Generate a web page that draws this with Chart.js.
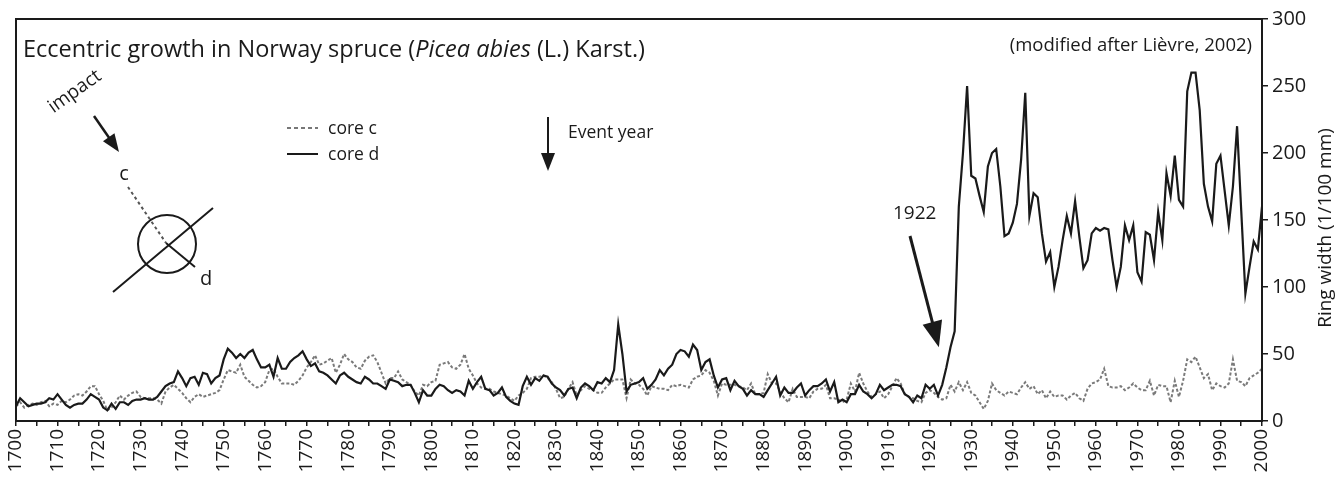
<!DOCTYPE html>
<html>
<head>
<meta charset="utf-8">
<script src="https://cdn.jsdelivr.net/npm/chart.js@4.4.1/dist/chart.umd.min.js"></script>
<style>
  html, body { margin: 0; padding: 0; background: #fff; }
  #wrap { width: 1341px; height: 477px; position: relative; }
</style>
</head>
<body>
<div id="wrap"><canvas id="chart" width="1341" height="477"></canvas></div>
<script>
// years on the x axis
const years = Array.from({ length: 301 }, (_, i) => 1700 + i);
const xTickStep = 5;
const yTicks = [0, 50, 100, 150, 200, 250, 300];

// ring width, 1/100 mm
const coreD = [
    11, 17, 14, 11, 12, 13, 13, 14, 17, 16, 20, 16, 12, 10, 12, 13, 13, 16, 20, 18,
    16, 10, 8, 13, 9, 14, 14, 12, 15, 16, 16, 17, 16, 16, 18, 22, 26, 28, 29, 37,
    32, 26, 32, 33, 27, 36, 35, 28, 32, 34, 46, 54, 51, 47, 50, 47, 51, 53, 46, 40,
    40, 42, 33, 47, 39, 39, 44, 47, 49, 52, 46, 41, 43, 37, 36, 34, 31, 28, 34, 36,
    33, 31, 29, 28, 33, 31, 28, 28, 26, 24, 31, 30, 29, 26, 27, 27, 21, 14, 23, 19,
    19, 24, 27, 26, 23, 21, 23, 22, 19, 30, 24, 29, 33, 24, 23, 19, 21, 25, 18, 15,
    13, 12, 26, 33, 27, 32, 30, 34, 33, 28, 25, 23, 19, 24, 25, 17, 25, 28, 26, 23,
    29, 28, 32, 29, 38, 72, 50, 22, 27, 28, 29, 32, 24, 27, 31, 38, 34, 39, 42, 50,
    53, 52, 48, 57, 53, 38, 44, 46, 34, 25, 31, 32, 23, 30, 26, 24, 19, 23, 20, 20,
    18, 23, 28, 33, 19, 25, 21, 21, 25, 28, 19, 23, 26, 26, 28, 31, 22, 29, 14, 16,
    14, 20, 20, 27, 22, 20, 17, 20, 27, 23, 25, 27, 27, 26, 20, 18, 14, 19, 17, 27,
    24, 27, 19, 27, 40, 55, 67, 160, 200, 250, 183, 181, 168, 156, 190, 200, 203, 175, 138, 140,
    148, 162, 195, 245, 153, 170, 167, 140, 119, 126, 100, 115, 135, 153, 140, 164, 138, 114, 120, 140,
    144, 142, 144, 143, 120, 100, 115, 146, 135, 146, 111, 104, 141, 139, 120, 156, 135, 185, 168, 198,
    165, 160, 246, 260, 260, 232, 177, 160, 149, 192, 198, 172, 146, 175, 220, 157, 95, 115, 134, 128,
    160
];
const coreC = [
    11, 14, 10, 12, 13, 12, 14, 15, 11, 13, 12, 15, 14, 16, 19, 20, 19, 22, 26, 26,
    20, 15, 8, 10, 14, 19, 16, 19, 21, 22, 18, 17, 17, 17, 16, 13, 22, 25, 27, 24,
    21, 17, 14, 18, 20, 18, 19, 20, 21, 23, 31, 38, 37, 36, 42, 33, 30, 27, 25, 26,
    29, 38, 39, 33, 28, 28, 28, 27, 30, 34, 40, 44, 49, 42, 43, 45, 47, 36, 42, 50,
    46, 44, 40, 39, 45, 48, 49, 44, 36, 28, 32, 32, 37, 31, 29, 27, 22, 19, 27, 26,
    29, 30, 42, 43, 44, 40, 39, 42, 50, 39, 34, 28, 25, 24, 24, 22, 21, 20, 19, 17,
    15, 19, 21, 24, 32, 33, 33, 34, 32, 29, 24, 17, 18, 24, 29, 19, 23, 26, 24, 23,
    21, 21, 25, 28, 31, 31, 31, 17, 31, 28, 27, 24, 19, 26, 25, 24, 24, 23, 27, 26,
    27, 26, 25, 31, 33, 34, 38, 36, 30, 19, 28, 27, 27, 27, 26, 25, 23, 28, 20, 20,
    21, 35, 28, 28, 22, 17, 14, 24, 18, 18, 18, 17, 22, 24, 24, 27, 17, 17, 16, 14,
    16, 28, 22, 36, 28, 22, 18, 20, 22, 17, 20, 26, 32, 28, 20, 18, 17, 15, 14, 21,
    23, 21, 18, 16, 17, 27, 22, 29, 23, 29, 21, 19, 14, 9, 15, 28, 23, 21, 19, 22,
    21, 20, 25, 29, 24, 26, 20, 23, 17, 22, 18, 19, 19, 16, 19, 21, 17, 15, 24, 28,
    29, 31, 39, 26, 25, 25, 26, 23, 25, 28, 25, 23, 23, 30, 19, 27, 26, 26, 14, 30,
    18, 30, 46, 44, 48, 40, 32, 35, 23, 28, 26, 25, 28, 46, 30, 29, 26, 32, 34, 36,
    39
];

const seriesLabels = ['core d', 'core c'];
const eventYear = 1922;

const FONT = "'Open Sans', 'Noto Sans', sans-serif";
const INK = '#1a1a1a';

const arrow = (ctx, x1, y1, x2, y2, head, width) => {
    const a = Math.atan2(y2 - y1, x2 - x1);
    ctx.beginPath();
    ctx.moveTo(x1, y1);
    ctx.lineTo(x2 - Math.cos(a) * head * 0.8, y2 - Math.sin(a) * head * 0.8);
    ctx.stroke();
    ctx.beginPath();
    ctx.moveTo(x2, y2);
    ctx.lineTo(x2 - head * Math.cos(a) + width * Math.sin(a), y2 - head * Math.sin(a) - width * Math.cos(a));
    ctx.lineTo(x2 - head * Math.cos(a) - width * Math.sin(a), y2 - head * Math.sin(a) + width * Math.cos(a));
    ctx.closePath();
    ctx.fill();
};

// frame, texts, legend, arrows and the little stem sketch
const annotations = {
    id: 'annotations',
    afterDraw(chart) {
        const { ctx, chartArea: area, scales } = chart;
        ctx.save();
        ctx.strokeStyle = INK;
        ctx.fillStyle = INK;
        ctx.lineWidth = 2;
        ctx.strokeRect(area.left, area.top, area.right - area.left, area.bottom - area.top);

        // title
        ctx.textBaseline = 'alphabetic';
        ctx.textAlign = 'left';
        ctx.font = `23.5px ${FONT}`;
        const t1 = 'Eccentric growth in Norway spruce (';
        const t2 = 'Picea abies';
        const t3 = ' (L.) Karst.)';
        let x = 23;
        ctx.fillText(t1, x, 57); x += ctx.measureText(t1).width;
        ctx.font = `italic 23.5px ${FONT}`;
        ctx.fillText(t2, x, 57); x += ctx.measureText(t2).width;
        ctx.font = `23.5px ${FONT}`;
        ctx.fillText(t3, x, 57);

        ctx.font = `18.5px ${FONT}`;
        ctx.textAlign = 'right';
        ctx.fillText('(modified after Lièvre, 2002)', area.right - 10, 51);

        // legend
        ctx.textAlign = 'left';
        ctx.font = `17.5px ${FONT}`;
        ctx.lineWidth = 2;
        ctx.strokeStyle = '#777';
        ctx.setLineDash([4, 3]);
        ctx.beginPath(); ctx.moveTo(287, 128); ctx.lineTo(318, 128); ctx.stroke();
        ctx.setLineDash([]);
        ctx.strokeStyle = INK;
        ctx.beginPath(); ctx.moveTo(287, 154); ctx.lineTo(318, 154); ctx.stroke();
        ctx.fillText(seriesLabels[1], 328, 134);
        ctx.fillText(seriesLabels[0], 328, 160);

        // event year marker
        arrow(ctx, 548, 117, 548, 171, 18, 7);
        ctx.fillText('Event year', 568, 138);

        // 1922 arrow
        const tipX = scales.x.getPixelForValue(eventYear + 0.2);
        const tipY = scales.y.getPixelForValue(coreD[eventYear - 1700 + 2] + 15);
        ctx.font = `19px ${FONT}`;
        ctx.fillText(String(eventYear), 893, 219);
        ctx.lineWidth = 3;
        arrow(ctx, 910, 236, tipX, tipY, 26, 10);

        // impact sketch
        ctx.save();
        ctx.translate(78, 96);
        ctx.rotate(-0.62);
        ctx.font = `19px ${FONT}`;
        ctx.textAlign = 'center';
        ctx.fillText('impact', 0, 0);
        ctx.restore();
        ctx.lineWidth = 2.5;
        arrow(ctx, 94, 116, 119, 152, 18, 7);

        ctx.font = `20px ${FONT}`;
        ctx.textAlign = 'center';
        ctx.fillText('c', 124, 180);
        ctx.fillText('d', 206, 285);

        ctx.lineWidth = 2;
        ctx.strokeStyle = '#555';
        ctx.setLineDash([3, 3]);
        ctx.beginPath(); ctx.moveTo(128, 187); ctx.lineTo(166, 243); ctx.stroke();
        ctx.setLineDash([]);
        ctx.strokeStyle = INK;
        ctx.beginPath(); ctx.moveTo(166, 243); ctx.lineTo(195, 267); ctx.stroke();
        ctx.beginPath(); ctx.arc(167, 244, 29, 0, Math.PI * 2); ctx.stroke();
        ctx.beginPath(); ctx.moveTo(113, 292); ctx.lineTo(213, 208); ctx.stroke();

        // right axis title, reading bottom to top
        ctx.save();
        ctx.translate(1326, 228);
        ctx.rotate(-Math.PI / 2);
        ctx.font = `19px ${FONT}`;
        ctx.textAlign = 'center';
        ctx.textBaseline = 'middle';
        ctx.fillText('Ring width (1/100 mm)', 0, 0);
        ctx.restore();

        ctx.restore();
    }
};

document.addEventListener('DOMContentLoaded', () => {
    const ctx = document.getElementById('chart').getContext('2d');
    const toPoints = (vals) => years.map((yr, i) => ({ x: yr, y: vals[i] }));

    new Chart(ctx, {
        type: 'line',
        data: {
            datasets: [
                {
                    label: seriesLabels[0], data: toPoints(coreD),
                    borderColor: INK, borderWidth: 2.2, pointRadius: 0, tension: 0, fill: false
                },
                {
                    label: seriesLabels[1], data: toPoints(coreC),
                    borderColor: '#7a7a7a', borderWidth: 2, borderDash: [3, 2],
                    pointRadius: 0, tension: 0, fill: false
                }
            ]
        },
        options: {
            responsive: false,
            animation: false,
            devicePixelRatio: 1,
            layout: { padding: { top: 19, left: 16, right: 0, bottom: 0 } },
            plugins: { legend: { display: false }, tooltip: { enabled: false } },
            scales: {
                x: {
                    type: 'linear', min: 1700, max: 2000,
                    afterFit: (s) => { s.height = 56; },
                    afterBuildTicks: (s) => {
                        s.ticks = [];
                        for (let v = years[0]; v <= years[years.length - 1]; v += xTickStep) s.ticks.push({ value: v });
                    },
                    grid: { drawOnChartArea: false, tickLength: 5, color: INK, lineWidth: 1.5 },
                    border: { display: true, color: INK, width: 2 },
                    ticks: {
                        autoSkip: false, minRotation: 90, maxRotation: 90, padding: 3,
                        color: INK, font: { family: FONT, size: 19 },
                        callback: (v) => (v % 10 === 0 ? String(v) : '')
                    }
                },
                y: {
                    position: 'right', min: 0, max: 300,
                    afterFit: (s) => { s.width = 79; },
                    afterBuildTicks: (s) => { s.ticks = yTicks.map(v => ({ value: v })); },
                    grid: { drawOnChartArea: false, tickLength: 6, color: INK, lineWidth: 1.5 },
                    border: { display: true, color: INK, width: 2 },
                    ticks: { padding: 4, color: INK, font: { family: FONT, size: 20 } }
                }
            }
        },
        plugins: [annotations]
    });
});
</script>
</body>
</html>
